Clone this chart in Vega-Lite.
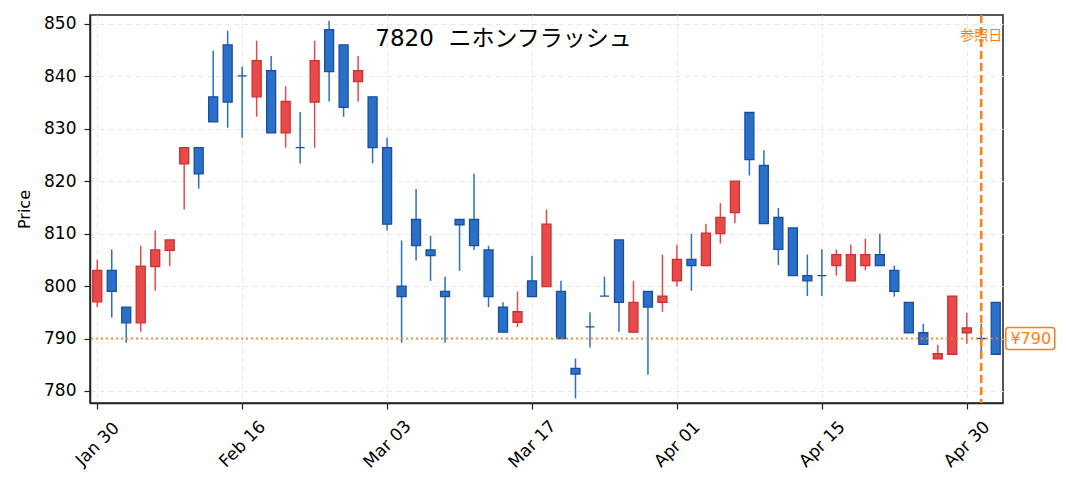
{
  "$schema": "https://vega.github.io/schema/vega-lite/v6.json",
  "width": 913,
  "height": 388,
  "autosize": {"type": "none"},
  "padding": {"left": 90, "top": 15, "right": 64, "bottom": 87},
  "title": {
    "text": "7820\u00a0\u00a0ニホンフラッシュ",
    "fontSize": 23,
    "fontWeight": "normal",
    "color": "#000000",
    "anchor": "middle",
    "frame": "group",
    "dx": -43,
    "offset": -37
  },
  "data": {
    "values": [
      {"d": "Jan 30", "o": 797, "h": 805, "l": 796, "c": 803},
      {"d": "Feb 02", "o": 803, "h": 807, "l": 794, "c": 799},
      {"d": "Feb 03", "o": 796, "h": 796, "l": 789.2, "c": 793},
      {"d": "Feb 04", "o": 793, "h": 807.7, "l": 791.3, "c": 803.8},
      {"d": "Feb 05", "o": 803.7, "h": 810.6, "l": 799.1, "c": 806.9},
      {"d": "Feb 06", "o": 806.8, "h": 808.8, "l": 803.8, "c": 808.8},
      {"d": "Feb 09", "o": 823.3, "h": 826.4, "l": 814.6, "c": 826.4},
      {"d": "Feb 10", "o": 826.4, "h": 826.4, "l": 818.6, "c": 821.4},
      {"d": "Feb 12", "o": 836.1, "h": 844.9, "l": 831.3, "c": 831.3},
      {"d": "Feb 13", "o": 846, "h": 848.7, "l": 830.2, "c": 835.1},
      {"d": "Feb 16", "o": 840.1, "h": 841.9, "l": 828.3, "c": 840.1},
      {"d": "Feb 17", "o": 836.1, "h": 846.8, "l": 832.3, "c": 843},
      {"d": "Feb 18", "o": 841.1, "h": 843.9, "l": 829.2, "c": 829.2},
      {"d": "Feb 19", "o": 829.2, "h": 838.1, "l": 826.4, "c": 835.2},
      {"d": "Feb 20", "o": 826.4, "h": 833.2, "l": 823.4, "c": 826.4},
      {"d": "Feb 24", "o": 835.1, "h": 846.8, "l": 826.4, "c": 843},
      {"d": "Feb 25", "o": 848.9, "h": 850.6, "l": 835.2, "c": 840.9},
      {"d": "Feb 26", "o": 846, "h": 846, "l": 832.3, "c": 834.1},
      {"d": "Feb 27", "o": 839, "h": 843.9, "l": 835.2, "c": 841.1},
      {"d": "Mar 02", "o": 836.1, "h": 836.1, "l": 823.4, "c": 826.4},
      {"d": "Mar 03", "o": 826.4, "h": 828.3, "l": 810.6, "c": 811.8},
      {"d": "Mar 04", "o": 800, "h": 808.7, "l": 789.2, "c": 798},
      {"d": "Mar 05", "o": 812.7, "h": 818.5, "l": 804.9, "c": 807.7},
      {"d": "Mar 06", "o": 806.9, "h": 809.6, "l": 801, "c": 805.8},
      {"d": "Mar 09", "o": 799, "h": 801.8, "l": 789.2, "c": 798},
      {"d": "Mar 10", "o": 812.7, "h": 812.7, "l": 802.9, "c": 811.7},
      {"d": "Mar 11", "o": 812.7, "h": 821.4, "l": 806.9, "c": 807.7},
      {"d": "Mar 12", "o": 806.9, "h": 807.7, "l": 796, "c": 798},
      {"d": "Mar 13", "o": 796, "h": 796.9, "l": 791.2, "c": 791.2},
      {"d": "Mar 16", "o": 793.1, "h": 799, "l": 792.2, "c": 795.1},
      {"d": "Mar 17", "o": 801, "h": 805.8, "l": 798, "c": 798},
      {"d": "Mar 18", "o": 799.9, "h": 814.6, "l": 799.9, "c": 811.8},
      {"d": "Mar 19", "o": 799, "h": 801, "l": 790, "c": 790},
      {"d": "Mar 23", "o": 784.3, "h": 786.2, "l": 778.6, "c": 783.2},
      {"d": "Mar 24", "o": 792.2, "h": 795, "l": 788.3, "c": 792.2},
      {"d": "Mar 25", "o": 798.1, "h": 801.8, "l": 798.1, "c": 798.1},
      {"d": "Mar 26", "o": 808.8, "h": 808.8, "l": 791.3, "c": 796.9},
      {"d": "Mar 27", "o": 791.2, "h": 801, "l": 791.2, "c": 796.9},
      {"d": "Mar 30", "o": 799, "h": 799, "l": 783.1, "c": 796},
      {"d": "Mar 31", "o": 796.9, "h": 806, "l": 795.1, "c": 798.1},
      {"d": "Apr 01", "o": 801, "h": 807.9, "l": 799.9, "c": 805.1},
      {"d": "Apr 02", "o": 805.1, "h": 810, "l": 799.1, "c": 803.9},
      {"d": "Apr 03", "o": 803.9, "h": 811.9, "l": 803.9, "c": 810.1},
      {"d": "Apr 06", "o": 810, "h": 815.8, "l": 808.1, "c": 813.1},
      {"d": "Apr 07", "o": 814, "h": 820, "l": 812, "c": 820},
      {"d": "Apr 08", "o": 833.1, "h": 833.1, "l": 821.1, "c": 824.1},
      {"d": "Apr 09", "o": 823, "h": 825.9, "l": 811.9, "c": 811.9},
      {"d": "Apr 10", "o": 813.1, "h": 814.9, "l": 804, "c": 807},
      {"d": "Apr 13", "o": 811.1, "h": 811.1, "l": 802, "c": 802},
      {"d": "Apr 14", "o": 802, "h": 806, "l": 798.1, "c": 801},
      {"d": "Apr 15", "o": 802, "h": 807, "l": 798.1, "c": 802},
      {"d": "Apr 16", "o": 803.9, "h": 807, "l": 802, "c": 806},
      {"d": "Apr 17", "o": 801, "h": 807.9, "l": 801, "c": 806},
      {"d": "Apr 20", "o": 803.9, "h": 809, "l": 803, "c": 806},
      {"d": "Apr 21", "o": 806, "h": 810, "l": 803.9, "c": 803.9},
      {"d": "Apr 22", "o": 803, "h": 803.9, "l": 798, "c": 799},
      {"d": "Apr 23", "o": 796.9, "h": 796.9, "l": 791.1, "c": 791.1},
      {"d": "Apr 24", "o": 791.1, "h": 792.8, "l": 788.9, "c": 788.9},
      {"d": "Apr 27", "o": 786.1, "h": 788.8, "l": 786.1, "c": 787.1},
      {"d": "Apr 28", "o": 787, "h": 798.1, "l": 787, "c": 798.1},
      {"d": "Apr 30", "o": 791.1, "h": 794.9, "l": 789, "c": 792},
      {"d": "May 01", "o": 790, "h": 792.8, "l": 786.1, "c": 790},
      {"d": "May 07", "o": 796.9, "h": 796.9, "l": 787, "c": 787}
    ]
  },
  "layer": [
    {
      "mark": {"type": "rule", "strokeWidth": 1.5},
      "encoding": {
        "x": {
          "field": "d",
          "type": "ordinal",
          "sort": null,
          "scale": {"type": "point", "padding": 0.5},
          "axis": {
            "values": ["Jan 30", "Feb 16", "Mar 03", "Mar 17", "Apr 01", "Apr 15", "Apr 30"],
            "title": null,
            "labelAngle": -45,
            "labelAlign": "center",
            "labelBaseline": "middle",
            "labelPadding": 35
          }
        },
        "y": {
          "field": "l",
          "type": "quantitative",
          "scale": {"domain": [777.7, 851.7], "nice": false, "zero": false},
          "axis": {
            "values": [780, 790, 800, 810, 820, 830, 840, 850],
            "title": "Price",
            "titlePadding": 11,
            "labelPadding": 8
          }
        },
        "y2": {"field": "h"},
        "color": {
          "condition": {"test": "datum.c > datum.o", "value": "#e84a4a"},
          "value": "#2a6fc8"
        }
      }
    },
    {
      "mark": {"type": "bar", "width": 9, "strokeWidth": 1.3},
      "encoding": {
        "x": {"field": "d", "type": "ordinal", "sort": null},
        "y": {"field": "o", "type": "quantitative"},
        "y2": {"field": "c"},
        "fill": {
          "condition": {"test": "datum.c > datum.o", "value": "#e84a4a"},
          "value": "#2a6fc8"
        },
        "stroke": {
          "condition": {"test": "datum.c > datum.o", "value": "#cc3030"},
          "value": "#1a4f9f"
        }
      }
    },
    {
      "data": {"values": [{"ref": 790}]},
      "mark": {"type": "rule", "color": "#ff7f0e", "strokeWidth": 2, "strokeDash": [2, 3], "opacity": 0.85},
      "encoding": {
        "y": {"field": "ref", "type": "quantitative"}
      }
    },
    {
      "transform": [{"filter": "datum.d === 'May 01'"}],
      "mark": {"type": "rule", "color": "#ff7f0e", "strokeWidth": 2.5, "strokeDash": [8, 4]},
      "encoding": {
        "x": {"field": "d", "type": "ordinal", "sort": null}
      }
    },
    {
      "transform": [{"filter": "datum.d === 'May 01'"}],
      "mark": {"type": "text", "text": "参照日", "color": "#ff7f0e", "fontSize": 14, "align": "right", "baseline": "middle", "dx": 21},
      "encoding": {
        "x": {"field": "d", "type": "ordinal", "sort": null},
        "y": {"datum": 847.7}
      }
    },
    {
      "transform": [{"filter": "datum.d === 'May 07'"}],
      "mark": {
        "type": "point",
        "shape": "M1.3,-1.1 L5.6,-1.1 Q5.9,-1.1 5.9,-0.8 L5.9,0.8 Q5.9,1.1 5.6,1.1 L1.3,1.1 Q1.0,1.1 1.0,0.8 L1.0,-0.8 Q1.0,-1.1 1.3,-1.1 Z",
        "size": 400,
        "filled": true,
        "fill": "#ffffff",
        "stroke": "#ff7f0e",
        "strokeWidth": 1.5,
        "opacity": 1
      },
      "encoding": {
        "x": {"field": "d", "type": "ordinal", "sort": null},
        "y": {"datum": 790}
      }
    },
    {
      "transform": [{"filter": "datum.d === 'May 07'"}],
      "mark": {"type": "text", "text": "¥790", "color": "#ff7f0e", "fontSize": 16, "align": "center", "baseline": "middle", "dx": 35},
      "encoding": {
        "x": {"field": "d", "type": "ordinal", "sort": null},
        "y": {"datum": 790}
      }
    }
  ],
  "config": {
    "font": "DejaVu Sans, Noto Sans CJK JP",
    "view": {"stroke": "#222222", "strokeWidth": 1.5},
    "axis": {
      "labelFontSize": 17,
      "labelColor": "#000000",
      "titleFontSize": 16,
      "titleFontWeight": "normal",
      "titleColor": "#000000",
      "domainColor": "#222222",
      "domainWidth": 1.5,
      "tickColor": "#222222",
      "tickSize": 6,
      "tickWidth": 1.2,
      "grid": true,
      "gridColor": "#e8e8e8",
      "gridDash": [5, 4],
      "gridWidth": 1
    }
  }
}
